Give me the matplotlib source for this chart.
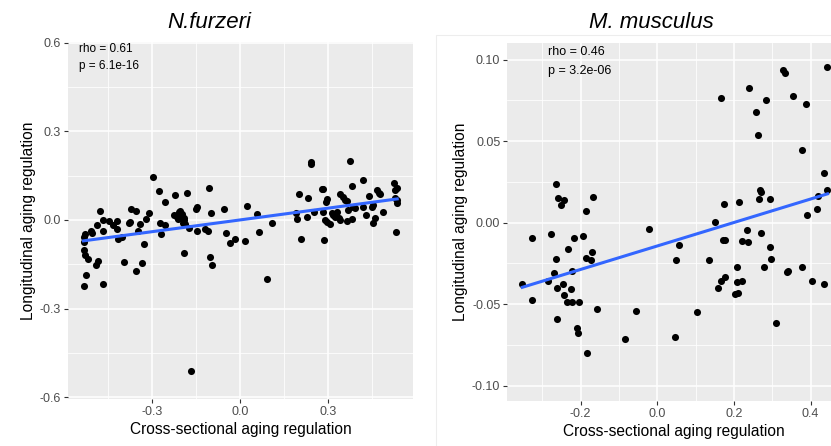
import numpy as np
import matplotlib
matplotlib.use('Agg')
import matplotlib.pyplot as plt
from matplotlib.patches import Rectangle

plt.rcParams['font.family'] = ['Liberation Sans', 'DejaVu Sans']

# N. furzeri: cross-sectional (x) vs longitudinal (y)
nf_x = [-0.535, -0.525, -0.535, -0.531, -0.519, -0.535, -0.533, -0.530, -0.511, -0.505,
        -0.492, -0.484, -0.490, -0.470, -0.470, -0.477, -0.469, -0.448, -0.434, -0.420,
        -0.420, -0.403, -0.417, -0.397, -0.381, -0.377, -0.371, -0.354, -0.343, -0.350,
        -0.355, -0.335, -0.329, -0.320, -0.311, -0.297, -0.278, -0.273, -0.271, -0.255,
        -0.255, -0.225, -0.223, -0.208, -0.200, -0.190, -0.215, -0.212, -0.198, -0.205,
        -0.192, -0.180, -0.191, -0.188, -0.173, -0.196, -0.166, -0.151, -0.148, -0.148,
        -0.120, -0.110, -0.106, -0.099, -0.102, -0.095, -0.055, -0.048, -0.034, -0.017,
        0.017, 0.023, 0.059, 0.065, 0.091, 0.110,
        0.190, 0.196, 0.202, 0.208, 0.230, 0.233, 0.241, 0.243, 0.253, 0.279,
        0.282, 0.283, 0.287, 0.290, 0.294, 0.298, 0.296, 0.307, 0.313, 0.319,
        0.325, 0.330, 0.339, 0.342, 0.342, 0.351, 0.359, 0.365, 0.365, 0.370,
        0.376, 0.382, 0.384, 0.387, 0.393, 0.421, 0.421, 0.430, 0.442, 0.450,
        0.455, 0.453, 0.461, 0.467, 0.476, 0.478, 0.487, 0.526, 0.535, 0.530,
        0.537, 0.535, 0.530, 0.532]
nf_y = [-0.225, -0.186, -0.101, -0.120, -0.133, -0.059, -0.075, -0.048, -0.036, -0.045,
        -0.152, -0.138, -0.018, -0.036, 0.000, 0.030, -0.217, -0.002, -0.017, -0.003,
        -0.032, -0.059, -0.065, -0.142, -0.011, -0.007, 0.038, 0.029, -0.014, -0.036,
        -0.174, -0.147, -0.082, 0.003, 0.023, 0.146, 0.098, -0.009, -0.048, -0.017,
        0.061, 0.017, 0.085, 0.027, 0.011, 0.000, 0.010, 0.002, 0.020, 0.030,
        0.005, 0.090, -0.113, -0.014, -0.026, -0.010, -0.511, 0.036, 0.045, -0.037,
        -0.032, -0.036, 0.107, 0.023, -0.126, -0.152, 0.036, -0.045, -0.077, -0.065,
        -0.071, 0.047, 0.020, -0.041, -0.199, -0.011,
        0.025, 0.002, 0.088, -0.065, 0.009, 0.073, 0.189, 0.196, 0.028, 0.104,
        0.106, 0.028, -0.068, 0.000, 0.062, 0.070, -0.006, -0.014, 0.023, 0.017,
        0.011, 0.028, 0.006, 0.000, 0.088, 0.079, 0.068, 0.065, -0.002, 0.034,
        0.201, 0.002, 0.115, 0.045, 0.040, 0.135, 0.045, 0.016, 0.081, 0.045,
        0.051, -0.009, 0.006, 0.101, 0.092, 0.088, 0.028, 0.124, 0.107, 0.100,
        0.068, 0.056, 0.073, -0.041]

# M. musculus
mm_x = [-0.264, -0.260, -0.243, -0.252, -0.167, -0.187, -0.021, 0.165, 0.239, 0.258,
        0.264, 0.284, 0.329, 0.332, 0.353, 0.388, 0.378, 0.442, 0.435, 0.444,
        0.419, 0.417, 0.390, 0.175, 0.214, 0.268, 0.270, 0.266, 0.294, 0.151,
        -0.352, -0.327, -0.327, -0.277, -0.285, -0.270, -0.264, -0.262, -0.262, -0.232,
        -0.245, -0.243, -0.236, -0.226, -0.223, -0.222, -0.216, -0.203, -0.193, -0.209,
        -0.207, -0.187, -0.174, -0.171, -0.183, -0.158, -0.083, -0.056, 0.049, 0.057,
        0.046, 0.104, 0.135, 0.171, 0.177, 0.158, 0.166, 0.176, 0.204, 0.211,
        0.209, 0.209, 0.220, 0.220, 0.235, 0.236, 0.271, 0.279, 0.294, 0.296,
        0.310, 0.338, 0.342, 0.377, 0.404, 0.435]
mm_y = [0.0234, 0.0152, 0.0138, 0.0107, 0.0158, 0.0070, -0.0038, 0.0765, 0.0826, 0.0679,
        0.0536, 0.0755, 0.0934, 0.0918, 0.0779, 0.0726, 0.0448, 0.0955, 0.0305, 0.0203,
        0.0162, 0.0081, 0.0046, 0.0113, 0.0124, 0.0203, 0.0189, 0.0144, 0.0144, 0.0005,
        -0.0377, -0.0093, -0.0475, -0.0070, -0.0360, -0.0311, -0.0222, -0.0401, -0.0591, -0.0164,
        -0.0375, -0.0446, -0.0489, -0.0409, -0.0295, -0.0489, -0.0095, -0.0489, -0.0083, -0.0648,
        -0.0679, -0.0216, -0.0230, -0.0181, -0.0802, -0.0530, -0.0712, -0.0544, -0.0230, -0.0136,
        -0.0700, -0.0546, -0.0230, -0.0107, -0.0107, -0.0399, -0.0356, -0.0336, -0.0440, -0.0434,
        -0.0271, -0.0363, -0.0356, -0.0111, -0.0046, -0.0119, -0.0062, -0.0275, -0.0148, -0.0220,
        -0.0614, -0.0301, -0.0297, -0.0271, -0.0360, -0.0377]

panels = [
    dict(x=nf_x, y=nf_y, title='N.furzeri', stat=['rho = 0.61', 'p = 6.1e-16'],
         pos=[68 / 831, 47 / 446, 345 / 831, 357 / 446],
         xlim=(-0.588, 0.591), ylim=(-0.606, 0.602),
         xt=[-0.3, 0.0, 0.3], xtl=['-0.3', '0.0', '0.3'],
         xm=[-0.45, -0.15, 0.15, 0.45],
         yt=[-0.6, -0.3, 0.0, 0.3, 0.6], ytl=['-0.6', '-0.3', '0.0', '0.3', '0.6'],
         ym=[-0.45, -0.15, 0.15, 0.45],
         txt=(-0.552, 0.580, 0.522), fs=8.5, tx=209),
    dict(x=mm_x, y=mm_y, title='M. musculus', stat=['rho = 0.46', 'p = 3.2e-06'],
         pos=[507.3 / 831, 45 / 446, 334 / 831, 357.7 / 446],
         xlim=(-0.391, 0.48), ylim=(-0.1094, 0.110),
         xt=[-0.2, 0.0, 0.2, 0.4], xtl=['-0.2', '0.0', '0.2', '0.4'],
         xm=[-0.3, -0.1, 0.1, 0.3],
         yt=[-0.10, -0.05, 0.0, 0.05, 0.10], ytl=['-0.10', '-0.05', '0.00', '0.05', '0.10'],
         ym=[-0.075, -0.025, 0.025, 0.075],
         txt=(-0.285, 0.1045, 0.0932), fs=9, tx=651),
]

fig = plt.figure(figsize=(8.31, 4.46), dpi=100)

# faint border of the second plot
fig.patches.append(Rectangle((436 / 831, -0.01), 0.6, 1 - 35 / 446 + 0.01, transform=fig.transFigure,
                             fill=False, edgecolor='#ededed', linewidth=0.8))

for p in panels:
    ax = fig.add_axes(p['pos'])
    ax.set_facecolor('#EBEBEB')
    for s in ax.spines.values():
        s.set_visible(False)
    ax.set_xlim(p['xlim'])
    ax.set_ylim(p['ylim'])
    ax.set_xticks(p['xt'])
    ax.set_xticklabels(p['xtl'])
    ax.set_yticks(p['yt'])
    ax.set_yticklabels(p['ytl'])
    ax.set_xticks(p['xm'], minor=True)
    ax.set_yticks(p['ym'], minor=True)
    ax.tick_params(which='major', length=3, width=0.8, color='#333333',
                   labelsize=9, labelcolor='#4D4D4D', pad=2)
    ax.tick_params(which='minor', length=0)
    ax.grid(which='major', color='white', linewidth=1.1)
    ax.grid(which='minor', color='white', linewidth=0.55)
    ax.set_axisbelow(True)

    x = np.array(p['x'])
    y = np.array(p['y'])
    ax.scatter(x, y, s=26, color='black', linewidths=0, zorder=3)
    slope, icpt = np.polyfit(x, y, 1)
    xs = np.array([x.min(), x.max()])
    ax.plot(xs, icpt + slope * xs, color='#3366FF', linewidth=2.2, zorder=4)

    tx0, ty1, ty2 = p['txt']
    ax.text(tx0, ty1, p['stat'][0], fontsize=p['fs'], color='black', ha='left', va='center')
    ax.text(tx0, ty2, p['stat'][1], fontsize=p['fs'], color='black', ha='left', va='center')

    ax.set_xlabel('Cross-sectional aging regulation', fontsize=11.2, labelpad=3)
    ax.set_ylabel('Longitudinal aging regulation', fontsize=11.2, labelpad=3)

    fig.text(p['tx'] / 831, 1 - 22 / 446, p['title'], fontsize=16, style='italic',
             family=['Liberation Sans Narrow', 'Liberation Sans'], ha='center', va='center')

fig.savefig('out.png', dpi=100)
